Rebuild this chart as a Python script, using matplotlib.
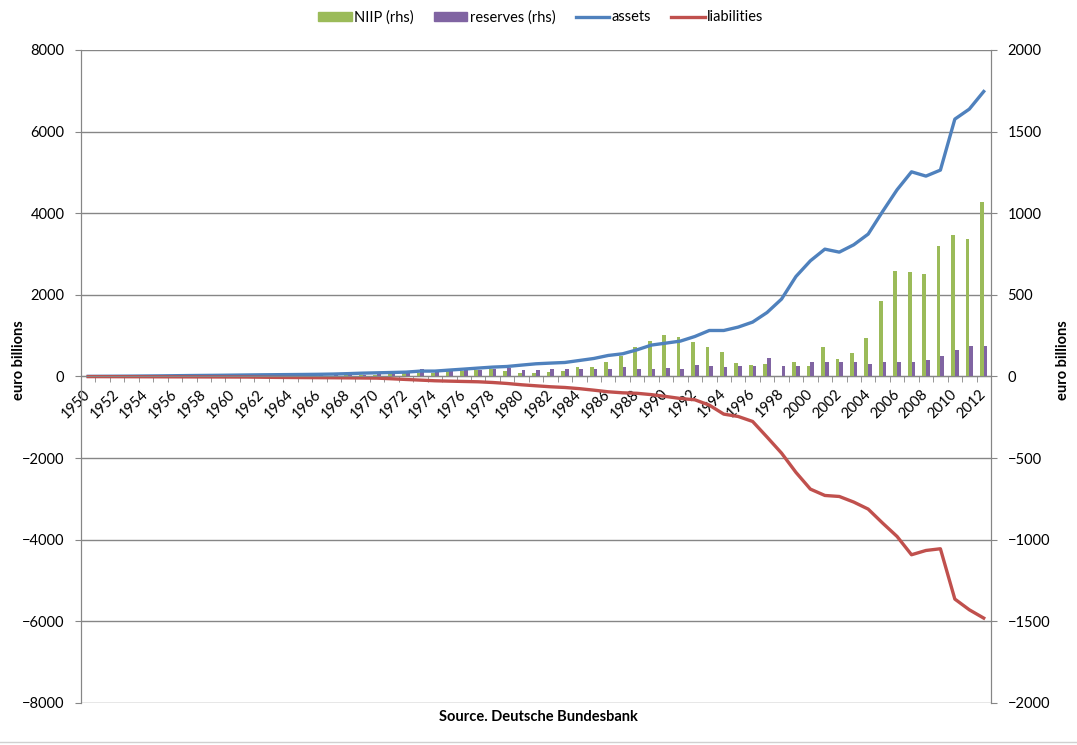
import matplotlib
matplotlib.use("Agg")
import matplotlib.pyplot as plt
import matplotlib.transforms as mtransforms
import numpy as np
from matplotlib.lines import Line2D
from matplotlib.patches import Patch

plt.rcParams["font.family"] = ["Lato", "DejaVu Sans"]

years = list(range(1950, 2013))

# external assets and liabilities, euro billions (left axis)
assets = [
    3, 5, 7, 9, 12, 15, 19, 23, 26, 29,
    33, 37, 41, 44, 47, 50, 54, 60, 70, 82,
    90, 98, 107, 132, 132, 157, 181, 206, 230, 245,
    279, 311, 328, 343, 392, 441, 515, 556, 654, 770,
    818, 867, 980, 1127, 1127, 1210, 1333, 1568, 1896, 2450,
    2835, 3120, 3047, 3227, 3489, 4043, 4575, 5015, 4910, 5057,
    6306, 6551, 6983,
]
liabilities = [
    -3, -4, -5, -6, -7, -8, -9, -10, -11, -12,
    -13, -14, -18, -22, -25, -27, -29, -31, -34, -37,
    -40, -56, -73, -89, -105, -114, -122, -130, -147, -171,
    -203, -228, -252, -269, -298, -335, -375, -400, -412, -445,
    -490, -539, -571, -702, -922, -980, -1102, -1485, -1877, -2350,
    -2760, -2915, -2940, -3077, -3249, -3592, -3920, -4368, -4263, -4221,
    -5454, -5716, -5920,
]

# net position and reserves, euro billions (right axis)
niip = [
    0, 0, 0, 0, 1, 1, 1, 1, 1, 1,
    1, 1, 1, 2, 2, 2, 3, 5, 7, 9,
    12, 16, 20, 20, 24, 31, 35, 39, 45, 35,
    24, 24, 27, 35, 59, 57, 86, 127, 178, 218,
    255, 243, 212, 182, 151, 82, 72, 78, 4, 90,
    65, 182, 108, 143, 233, 465, 647, 641, 627, 798,
    869, 841, 1069,
]
reserves = [
    0, 0, 1, 1, 1, 2, 2, 2, 3, 3,
    3, 3, 4, 4, 4, 5, 8, 10, 14, 12,
    22, 27, 27, 45, 29, 33, 37, 41, 47, 49,
    41, 41, 45, 45, 45, 45, 47, 61, 47, 47,
    51, 47, 72, 63, 57, 63, 63, 114, 63, 67,
    90, 90, 90, 86, 78, 86, 86, 90, 100, 125,
    163, 186, 186,
]

green = "#9BBB59"
purple = "#8064A2"
blue = "#4F81BD"
red = "#C0504D"
grey = "#868686"

x = np.arange(len(years))

fig = plt.figure(figsize=(10.77, 7.45), dpi=100)
ax = fig.add_axes([0.0752, 0.0564, 0.8449, 0.8765])
ax2 = ax.twinx()

# bars on the right-hand axis, lines drawn above them
bw = 0.26
ax2.bar(x - bw / 2, niip, width=bw, color=green, zorder=2)
ax2.bar(x + bw / 2, reserves, width=bw, color=purple, zorder=2)
ax2.set_ylim(-2000, 2000)
ax2.set_yticks(np.arange(-2000, 2001, 500))
ax2.yaxis.grid(True, color=grey, lw=1.0, zorder=0)
ax2.set_axisbelow(True)

ax.set_zorder(ax2.get_zorder() + 1)
ax.patch.set_visible(False)
ax.plot(x, assets, color=blue, lw=2.4, solid_joinstyle="round")
ax.plot(x, liabilities, color=red, lw=2.4, solid_joinstyle="round")
ax.set_ylim(-8000, 8000)
ax.set_yticks(np.arange(-8000, 8001, 2000))
ax.set_xlim(-0.5, len(years) - 0.5)

# category axis sits on the zero line
ax.spines["bottom"].set_position(("data", 0))
ax.spines["bottom"].set_color(grey)
ax.spines["top"].set_visible(False)
ax.set_xticks(x[::2])
ax.set_xticklabels([str(y) for y in years[::2]], rotation=45, ha="right",
                   va="center", rotation_mode="anchor", fontsize=10.5)
shift = mtransforms.ScaledTranslation(7 / 100, 0, fig.dpi_scale_trans)
for lbl in ax.get_xticklabels():
    lbl.set_transform(lbl.get_transform() + shift)
ax.set_xticks(np.arange(-0.5, len(years), 1), minor=True)
ax.tick_params(axis="x", which="major", length=0, pad=11)
ax.tick_params(axis="x", which="minor", length=4, color=grey)

for a in (ax, ax2):
    for s in ("left", "right"):
        a.spines[s].set_color(grey)
    a.spines["top"].set_visible(False)
ax2.spines["bottom"].set_visible(False)
ax.tick_params(axis="y", length=4, color=grey, labelsize=10.5, pad=8)
ax2.tick_params(axis="y", length=4, color=grey, labelsize=10.5, pad=8)

ax.set_ylabel("euro billions", fontsize=10.5, fontweight="bold")
ax.yaxis.set_label_coords(-0.060, 0.525)
ax2.set_ylabel("euro billions", fontsize=10.5, fontweight="bold")
ax2.yaxis.set_label_coords(1.072, 0.525)
fig.text(0.5, 0.038, "Source. Deutsche Bundesbank", ha="center", va="center",
         fontsize=10.5, fontweight="bold")

handles = [
    Patch(color=green, label="NIIP (rhs)"),
    Patch(color=purple, label="reserves (rhs)"),
    Line2D([], [], color=blue, lw=2.4, label="assets"),
    Line2D([], [], color=red, lw=2.4, label="liabilities"),
]
fig.legend(handles=handles, loc="center", bbox_to_anchor=(0.502, 0.977), ncol=4,
           frameon=False, fontsize=10.5, handlelength=2.3, handleheight=0.55,
           columnspacing=1.4, handletextpad=0.15)

fig.add_artist(Line2D([0, 1], [0.004, 0.004], color="#d0d0d0", lw=1.0))

fig.savefig("out.png", dpi=100)
